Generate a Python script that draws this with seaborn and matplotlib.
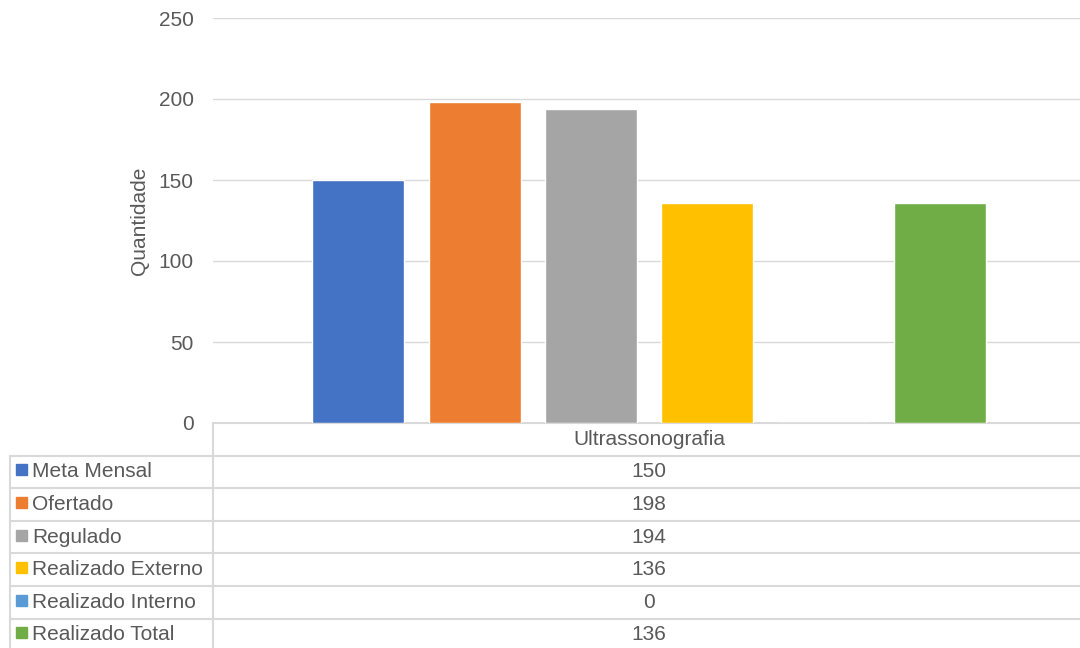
import pandas as pd
import matplotlib.pyplot as plt
from matplotlib.patches import Rectangle
import seaborn as sns

# Chart data
categoria = ["Ultrassonografia"]
series = ["Meta Mensal", "Ofertado", "Regulado", "Realizado Externo",
          "Realizado Interno", "Realizado Total"]
valores = [150, 198, 194, 136, 0, 136]
cores = ["#4472C4", "#ED7D31", "#A5A5A5", "#FFC000", "#5B9BD5", "#70AD47"]
yticks = [0, 50, 100, 150, 200, 250]

df = pd.DataFrame({"Exame": categoria * len(series), "Serie": series, "Quantidade": valores})

sns.set_style("white")
plt.rcParams["font.family"] = ["Liberation Sans", "DejaVu Sans"]
texto = "#595959"
linha = "#D9D9D9"

W, H = 1080, 648
fig = plt.figure(figsize=(W / 100, H / 100), dpi=100)

# table layer in pixel coordinates
tab = fig.add_axes([0, 0, 1, 1], zorder=0)
tab.set_xlim(0, W)
tab.set_ylim(H, 0)
tab.axis("off")

# plot area (runs a little past the right edge, like the original)
x0, x1, y0, y1 = 213, 1085, 18, 423
ax = fig.add_axes([x0 / W, (H - y1) / H, (x1 - x0) / W, (y1 - y0) / H], zorder=1)
ax.patch.set_alpha(0)
sns.barplot(data=df, x="Exame", y="Quantidade", hue="Serie", palette=cores,
            width=0.8, gap=0.21, legend=False, saturation=1, ax=ax)
ax.set_xlim(-0.5, 0.5)
ax.set_ylim(0, 250)
ax.set_yticks(yticks)
ax.yaxis.grid(True, color=linha, linewidth=1)
ax.set_axisbelow(True)
for s in ax.spines.values():
    s.set_visible(False)
ax.tick_params(axis="y", length=0, pad=14, labelsize=15, labelcolor=texto)
ax.set_xticks([])
ax.set_xlabel("")
ax.set_ylabel("Quantidade", fontsize=15, color=texto)
ax.yaxis.set_label_coords(-0.073, 0.5)

# data table
row_h = 32.6
tops = [y1 + row_h * i for i in range(len(series) + 2)]
tab.plot([x0, x0], [y1, H], color=linha, lw=1.5)
tab.plot([10, 10], [tops[1], H], color=linha, lw=1.5)
tab.plot([x0, x1], [y1, y1], color=linha, lw=1.5)
for y in tops[1:len(series) + 1]:
    tab.plot([10, x1], [y, y], color=linha, lw=1.5)
cx = (x0 + x1) / 2
tab.text(cx, y1 + row_h / 2, categoria[0], ha="center", va="center",
         fontsize=15, color=texto)
for i, (nome, v, c) in enumerate(zip(series, valores, cores)):
    yc = tops[i + 1] + row_h / 2
    tab.add_patch(Rectangle((16, yc - 7.5), 11, 11, color=c))
    tab.text(32, yc, nome, ha="left", va="center", fontsize=15, color=texto)
    tab.text(cx, yc, str(v), ha="center", va="center", fontsize=15, color=texto)

plt.savefig("out.png", dpi=100)
